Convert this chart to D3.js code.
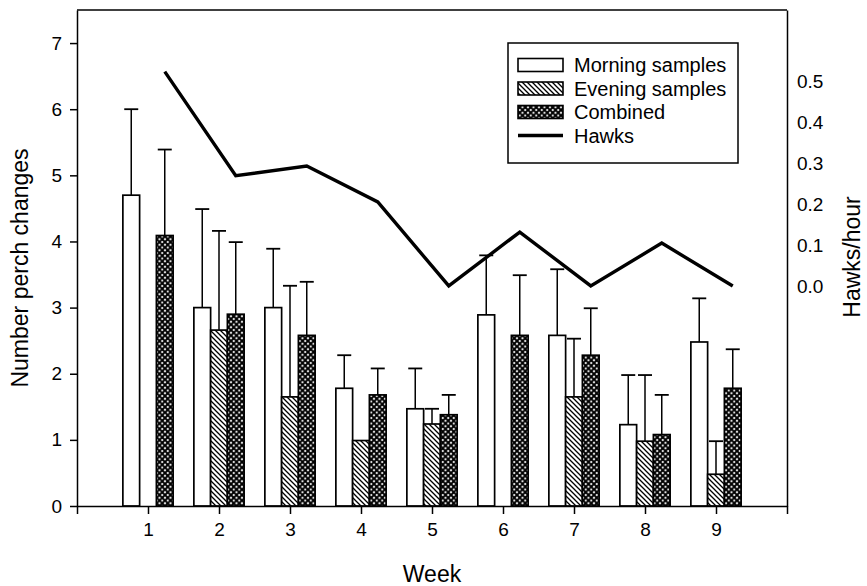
<!DOCTYPE html>
<html>
<head>
<meta charset="utf-8">
<script src="https://cdn.jsdelivr.net/npm/d3@7"></script>
<style>
  body { margin: 0; background: #fff; }
  text { font-family: "Liberation Sans", Arial, sans-serif; fill: #000; }
</style>
</head>
<body>
<div id="chart"></div>
<script>
// Data
const weeks = [1, 2, 3, 4, 5, 6, 7, 8, 9];
const morning = [4.7, 3.0, 3.0, 1.78, 1.47, 2.89, 2.58, 1.23, 2.48];
const morningErr = [6.0, 4.49, 3.89, 2.28, 2.08, 3.79, 3.58, 1.98, 3.14];
const evening = [null, 2.66, 1.65, 0.99, 1.24, null, 1.65, 0.98, 0.48];
const eveningErr = [null, 4.16, 3.33, null, 1.47, null, 2.53, 1.98, 0.98];
const combined = [4.09, 2.9, 2.58, 1.68, 1.38, 2.58, 2.28, 1.08, 1.78];
const combinedErr = [5.39, 3.99, 3.39, 2.08, 1.68, 3.49, 2.99, 1.68, 2.37];
const hawks = [0.525, 0.27, 0.294, 0.206, 0.0, 0.132, 0.0, 0.105, 0.0];
const leftTicks = [0, 1, 2, 3, 4, 5, 6, 7];
const rightTicks = [0.0, 0.1, 0.2, 0.3, 0.4, 0.5];
const legendLabels = ['Morning samples', 'Evening samples', 'Combined', 'Hawks'];

// Plot box
const W = 867, H = 586;
const mLeft = 77, mRight = 787, mTop = 10, mBottom = 506;

const x = d3.scaleLinear().domain([0, 10]).range([mLeft, mRight]);
const y = d3.scaleLinear().domain([0, 7.5]).range([mBottom, mTop]);
const y2 = d3.scaleLinear().domain([-0.539, 0.676]).range([mBottom, mTop]);
const bw = x(0.236) - x(0);

const svg = d3.select('#chart').append('svg')
  .attr('width', W).attr('height', H);

// fill patterns
const defs = svg.append('defs');
const hatch = defs.append('pattern').attr('id', 'hatch')
  .attr('patternUnits', 'userSpaceOnUse').attr('width', 5).attr('height', 5);
hatch.append('rect').attr('width', 5).attr('height', 5).attr('fill', '#fff');
hatch.append('path').attr('d', 'M0,0L5,5M-1,4L1,6M4,-1L6,1')
  .attr('stroke', '#000').attr('stroke-width', 1.3);

const cross = defs.append('pattern').attr('id', 'cross')
  .attr('patternUnits', 'userSpaceOnUse').attr('width', 5.5).attr('height', 5.5);
cross.append('rect').attr('width', 5.5).attr('height', 5.5).attr('fill', '#fff');
cross.append('path').attr('d', 'M0,0L5.5,5.5M5.5,0L0,5.5')
  .attr('stroke', '#000').attr('stroke-width', 2);

const series = [
  { vals: morning, errs: morningErr, fill: '#fff', off: -1 },
  { vals: evening, errs: eveningErr, fill: 'url(#hatch)', off: 0 },
  { vals: combined, errs: combinedErr, fill: 'url(#cross)', off: 1 }
];

series.forEach(s => {
  const rows = weeks.map((w, i) => ({ w, v: s.vals[i], e: s.errs[i] }))
    .filter(d => d.v != null);
  const g = svg.append('g');
  // error bars (upper only)
  const eb = rows.filter(d => d.e != null);
  g.selectAll('.err').data(eb).enter().append('line')
    .attr('x1', d => x(d.w) + s.off * bw).attr('x2', d => x(d.w) + s.off * bw)
    .attr('y1', d => y(d.v)).attr('y2', d => y(d.e))
    .attr('stroke', '#000').attr('stroke-width', 1.5);
  g.selectAll('.cap').data(eb).enter().append('line')
    .attr('x1', d => x(d.w) + s.off * bw - 7).attr('x2', d => x(d.w) + s.off * bw + 7)
    .attr('y1', d => y(d.e)).attr('y2', d => y(d.e))
    .attr('stroke', '#000').attr('stroke-width', 1.8);
  g.selectAll('.bar').data(rows).enter().append('rect')
    .attr('x', d => x(d.w) + s.off * bw - bw / 2)
    .attr('width', bw)
    .attr('y', d => y(d.v))
    .attr('height', d => y(0) - y(d.v))
    .attr('fill', s.fill)
    .attr('stroke', '#000').attr('stroke-width', 1.7);
});

// hawks line
svg.append('path')
  .datum(weeks.map((w, i) => [w, hawks[i]]))
  .attr('fill', 'none').attr('stroke', '#000').attr('stroke-width', 3.4)
  .attr('stroke-linejoin', 'miter')
  .attr('d', d3.line().x(d => x(d[0]) + bw).y(d => y2(d[1])));

// axes
const axFont = g => g.selectAll('text')
  .style('font-family', '"Liberation Sans", Arial, sans-serif')
  .style('font-size', '19px').attr('fill', '#000');

svg.append('g')
  .attr('transform', `translate(0,${mBottom})`)
  .call(d3.axisBottom(x).tickValues(d3.range(0, 11))
    .tickFormat(d => (d >= 1 && d <= 9) ? d : '')
    .tickSize(8).tickSizeOuter(0).tickPadding(9))
  .call(axFont)
  .call(g => g.selectAll('line, path').attr('stroke', '#000').attr('stroke-width', 1.5));

svg.append('g')
  .attr('transform', `translate(${mLeft},0)`)
  .call(d3.axisLeft(y).tickValues(leftTicks).tickSize(7).tickSizeOuter(0).tickPadding(8))
  .call(axFont)
  .call(g => g.selectAll('line, path').attr('stroke', '#000').attr('stroke-width', 1.5));

svg.append('g')
  .attr('transform', `translate(${mRight},0)`)
  .call(d3.axisRight(y2).tickValues(rightTicks).tickFormat(d3.format('.1f'))
    .tickSize(0).tickSizeOuter(0).tickPadding(10))
  .call(axFont)
  .call(g => g.selectAll('line, path').attr('stroke', '#000').attr('stroke-width', 1.5));

// top frame line
svg.append('line')
  .attr('x1', mLeft).attr('x2', mRight).attr('y1', mTop).attr('y2', mTop)
  .attr('stroke', '#000').attr('stroke-width', 1.5);

// axis titles
svg.append('text').attr('x', (mLeft + mRight) / 2).attr('y', 582)
  .attr('text-anchor', 'middle').style('font-size', '23px').text('Week');
svg.append('text')
  .attr('transform', `translate(28,268) rotate(-90)`)
  .attr('text-anchor', 'middle').style('font-size', '23px').text('Number perch changes');
svg.append('text')
  .attr('transform', `translate(860,257) rotate(-90)`)
  .attr('text-anchor', 'middle').style('font-size', '23px').text('Hawks/hour');

// legend
const lg = svg.append('g');
lg.append('rect').attr('x', 508).attr('y', 43).attr('width', 230).attr('height', 120)
  .attr('fill', '#fff').attr('stroke', '#000').attr('stroke-width', 1.5);
const fills = ['#fff', 'url(#hatch)', 'url(#cross)', null];
legendLabels.forEach((lab, i) => {
  const cy = 65 + i * 23.5;
  if (fills[i]) {
    lg.append('rect').attr('x', 518).attr('y', cy - 6.5).attr('width', 45).attr('height', 13)
      .attr('fill', fills[i]).attr('stroke', '#000').attr('stroke-width', 1.6);
  } else {
    lg.append('line').attr('x1', 518).attr('x2', 563).attr('y1', cy).attr('y2', cy)
      .attr('stroke', '#000').attr('stroke-width', 3.4);
  }
  lg.append('text').attr('x', 574).attr('y', cy).attr('dy', '0.36em')
    .style('font-size', '20px').text(lab);
});
</script>
</body>
</html>
